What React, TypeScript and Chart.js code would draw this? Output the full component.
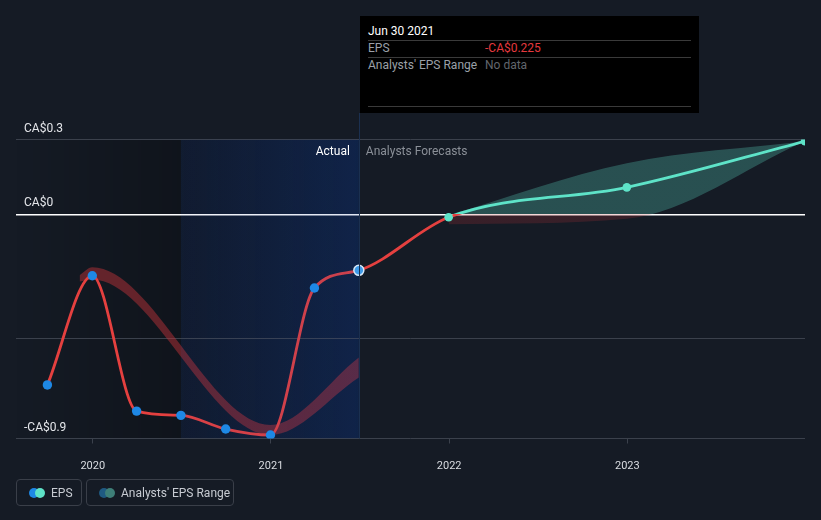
import React, { useEffect, useRef } from 'react';
import { Chart, registerables } from 'chart.js';

Chart.register(...registerables);

// ---- data ----
const epsDates = ['2019-09-30', '2019-12-31', '2020-03-31', '2020-06-30', '2020-09-30', '2020-12-31', '2021-03-31', '2021-06-30', '2021-12-31', '2022-12-31', '2023-12-31'];
const epsValues = [-0.685, -0.247, -0.79, -0.807, -0.862, -0.886, -0.296, -0.225, -0.012, 0.108, 0.293];
const actualCount = 8;

const pastRangeDates = ['2019-12-05', '2019-12-31', '2020-12-31', '2021-06-30'];
const pastRangeHigh = [-0.245, -0.213, -0.846, -0.575];
const pastRangeLow = [-0.27, -0.262, -0.886, -0.655];

const forecastRangeDates = ['2021-12-31', '2022-12-31', '2023-12-31'];
const forecastRangeHigh = [-0.003, 0.205, 0.293];
const forecastRangeLow = [-0.04, -0.018, 0.293];

const xTickYears = [2020, 2021, 2022, 2023];
const yTickValues = [-0.9, -0.5, 0, 0.3];
const yTickLabels = ['-CA$0.9', '', 'CA$0', 'CA$0.3'];
const yMin = -0.9;
const yMax = 0.3;
const xMinYear = 2019.569;
const xMaxDate = '2023-12-31';
const actualStartDate = '2020-06-30';
const actualEndDate = '2021-06-30';

const tooltipTitle = 'Jun 30 2021';
const tooltipEpsText = '-CA$0.225';

// ---- colors ----
const BG = '#151b25';
const RED = '#e5403f';
const CYAN = '#5ee3c8';
const BLUE = '#1e88e5';
const FONT = 'Roboto, "Noto Sans", sans-serif';

function toYear(d: string): number {
  const [y, m, dd] = d.split('-').map(Number);
  const start = Date.UTC(y, 0, 1);
  const end = Date.UTC(y + 1, 0, 1);
  return y + (Date.UTC(y, m - 1, dd) - start) / (end - start);
}

function zeroSplit(chart: any, above: string, below: string) {
  const { ctx, chartArea, scales } = chart;
  if (!chartArea || !scales || !scales.y) return below;
  const y0 = scales.y.getPixelForValue(0);
  const g = ctx.createLinearGradient(0, chartArea.top, 0, chartArea.bottom);
  const f = Math.min(1, Math.max(0, (y0 - chartArea.top) / (chartArea.bottom - chartArea.top)));
  g.addColorStop(0, above);
  g.addColorStop(f, above);
  g.addColorStop(f, below);
  g.addColorStop(1, below);
  return g;
}

const EPS_LINE_INDEX = 4;

const regionsPlugin = {
  id: 'regions',
  beforeDraw(chart: any) {
    const { ctx, chartArea, scales } = chart;
    const xs = scales.x;
    const xa = xs.getPixelForValue(toYear(actualStartDate));
    const xe = xs.getPixelForValue(toYear(actualEndDate));
    const top = chartArea.top;
    const h = chartArea.bottom - chartArea.top;
    ctx.save();
    const g1 = ctx.createLinearGradient(chartArea.left, 0, xa, 0);
    g1.addColorStop(0, 'rgba(0,0,0,0)');
    g1.addColorStop(1, 'rgba(0,0,0,0.25)');
    ctx.fillStyle = g1;
    ctx.fillRect(chartArea.left, top, xa - chartArea.left, h);
    const g2 = ctx.createLinearGradient(xa, 0, xe, 0);
    g2.addColorStop(0, 'rgba(0,20,60,0.22)');
    g2.addColorStop(1, 'rgba(0,35,95,0.34)');
    ctx.fillStyle = g2;
    ctx.fillRect(xa, top, xe - xa, h);
    ctx.restore();
  },
  afterDatasetDraw(chart: any, args: any) {
    if (args.index !== EPS_LINE_INDEX) return;
    const { ctx, chartArea, scales } = chart;
    const xs = scales.x;
    const xa = xs.getPixelForValue(toYear(actualStartDate));
    const xe = xs.getPixelForValue(toYear(actualEndDate));
    ctx.save();
    const g = ctx.createLinearGradient(xa, 0, xe, 0);
    g.addColorStop(0, 'rgba(30,70,170,0.05)');
    g.addColorStop(1, 'rgba(30,70,170,0.14)');
    ctx.fillStyle = g;
    ctx.fillRect(xa, chartArea.top, xe - xa, chartArea.bottom - chartArea.top);
    ctx.restore();
  },
  afterDraw(chart: any) {
    const { ctx, chartArea, scales } = chart;
    const xe = scales.x.getPixelForValue(toYear(actualEndDate));
    ctx.save();
    ctx.strokeStyle = '#1b3050';
    ctx.lineWidth = 1;
    ctx.beginPath();
    ctx.moveTo(Math.round(xe) + 0.5, 113);
    ctx.lineTo(Math.round(xe) + 0.5, chartArea.bottom);
    ctx.stroke();
    ctx.font = `12px ${FONT}`;
    ctx.textBaseline = 'middle';
    ctx.textAlign = 'right';
    ctx.fillStyle = '#ffffff';
    ctx.fillText('Actual', xe - 9, chartArea.top + 12);
    ctx.textAlign = 'left';
    ctx.fillStyle = '#8b9098';
    ctx.fillText('Analysts Forecasts', xe + 7, chartArea.top + 12);
    ctx.restore();
  },
};

export default function App() {
  const canvasRef = useRef<HTMLCanvasElement | null>(null);

  useEffect(() => {
    const canvas = canvasRef.current;
    if (!canvas) return;

    const epsPts = epsDates.map((d, i) => ({ x: toYear(d), y: epsValues[i] }));
    const actualPts = epsPts.slice(0, actualCount);
    const forecastPts = epsPts.slice(actualCount);
    const pastHigh = pastRangeDates.map((d, i) => ({ x: toYear(d), y: pastRangeHigh[i] }));
    const pastLow = pastRangeDates.map((d, i) => ({ x: toYear(d), y: pastRangeLow[i] }));
    const fcHigh = forecastRangeDates.map((d, i) => ({ x: toYear(d), y: forecastRangeHigh[i] }));
    const fcLow = forecastRangeDates.map((d, i) => ({ x: toYear(d), y: forecastRangeLow[i] }));

    const chart = new Chart(canvas, {
      type: 'line',
      data: {
        datasets: [
          {
            label: 'pastHigh',
            data: pastHigh,
            fill: '+1',
            backgroundColor: 'rgba(190,50,56,0.48)',
            borderWidth: 0,
            pointRadius: 0,
            cubicInterpolationMode: 'monotone',
            order: 5,
          },
          {
            label: 'pastLow',
            data: pastLow,
            fill: false,
            borderWidth: 0,
            pointRadius: 0,
            cubicInterpolationMode: 'monotone',
            order: 5,
          },
          {
            label: 'fcHigh',
            data: fcHigh,
            fill: '+1',
            backgroundColor: (c: any) => zeroSplit(c.chart, 'rgba(88,205,185,0.3)', 'rgba(200,52,58,0.2)'),
            borderWidth: 0,
            pointRadius: 0,
            cubicInterpolationMode: 'monotone',
            order: 5,
          },
          {
            label: 'fcLow',
            data: fcLow,
            fill: false,
            borderWidth: 0,
            pointRadius: 0,
            cubicInterpolationMode: 'monotone',
            order: 5,
          },
          {
            label: 'EPS',
            data: epsPts,
            fill: false,
            borderColor: (c: any) => zeroSplit(c.chart, CYAN, RED),
            borderWidth: 2.8,
            pointRadius: 0,
            cubicInterpolationMode: 'monotone',
            order: 3,
          },
          {
            label: 'EPS actual points',
            data: actualPts,
            showLine: false,
            pointRadius: actualPts.map((_, i) => (i === actualCount - 1 ? 5 : 4.7)),
            pointBackgroundColor: actualPts.map((_, i) => (i === actualCount - 1 ? '#3d9ae8' : BLUE)),
            pointBorderColor: actualPts.map((_, i) => (i === actualCount - 1 ? '#d8e8f7' : BLUE)),
            pointBorderWidth: actualPts.map((_, i) => (i === actualCount - 1 ? 1.5 : 0)),
            order: 1,
          },
          {
            label: 'EPS forecast points',
            data: forecastPts,
            showLine: false,
            pointRadius: 4.3,
            pointBackgroundColor: CYAN,
            pointBorderColor: CYAN,
            pointBorderWidth: 0,
            order: 1,
          },
        ],
      },
      options: {
        responsive: false,
        animation: false,
        events: [],
        layout: { padding: { top: 139.5, left: 0, right: 16, bottom: 0 } },
        plugins: {
          legend: { display: false },
          tooltip: { enabled: false },
        },
        scales: {
          x: {
            type: 'linear',
            min: xMinYear,
            max: toYear(xMaxDate),
            afterBuildTicks: (s: any) => {
              s.ticks = xTickYears.map((v) => ({ value: v }));
            },
            afterFit: (s: any) => {
              s.height = 81.5;
            },
            ticks: {
              color: '#d9dce1',
              font: { family: FONT, size: 11 },
              padding: 16,
              maxRotation: 0,
              callback: (v: any) => String(v),
            },
            grid: {
              drawOnChartArea: false,
              drawTicks: true,
              tickLength: 5,
              color: '#3b414c',
            },
            border: { display: false },
          },
          y: {
            type: 'linear',
            min: yMin,
            max: yMax,
            afterBuildTicks: (s: any) => {
              s.ticks = yTickValues.map((v) => ({ value: v }));
            },
            afterFit: (s: any) => {
              s.width = 16;
            },
            ticks: {
              mirror: true,
              padding: 8,
              labelOffset: -11,
              color: '#e4e6ea',
              font: { family: FONT, size: 12 },
              callback: (v: any) => {
                const i = yTickValues.indexOf(Number(v));
                return i >= 0 ? yTickLabels[i] : '';
              },
            },
            grid: {
              drawTicks: false,
              color: (c: any) => (c.tick && c.tick.value === 0 ? '#ffffff' : '#3b414c'),
              lineWidth: (c: any) => (c.tick && c.tick.value === 0 ? 1.5 : 1),
            },
            border: { display: false },
          },
        },
      },
      plugins: [regionsPlugin],
    });

    return () => {
      chart.destroy();
    };
  }, []);

  const legendBox: React.CSSProperties = {
    position: 'absolute',
    top: 479,
    height: 27,
    border: '1px solid #3a3f49',
    borderRadius: 4,
    boxSizing: 'border-box',
    display: 'flex',
    alignItems: 'center',
    fontFamily: FONT,
    fontSize: 12,
    color: '#c7cbd2',
  };
  const dot = (color: string, left: number): React.CSSProperties => ({
    position: 'absolute',
    left,
    top: 8,
    width: 10,
    height: 10,
    borderRadius: '50%',
    background: color,
  });

  const ttRow: React.CSSProperties = {
    position: 'absolute',
    left: 8,
    fontFamily: FONT,
    fontSize: 12,
    lineHeight: '14px',
    whiteSpace: 'nowrap',
  };
  const ttLine = (top: number): React.CSSProperties => ({
    position: 'absolute',
    left: 8,
    right: 8,
    top,
    height: 1,
    background: '#3a3a3a',
  });

  return (
    <div style={{ position: 'fixed', left: 0, top: 0, width: 821, height: 520, background: BG, overflow: 'hidden' }}>
      <canvas ref={canvasRef} width={821} height={520} style={{ position: 'absolute', left: 0, top: 0, width: 821, height: 520 }} />

      <div style={{ position: 'absolute', left: 360, top: 16, width: 339, height: 97, background: '#000000' }}>
        <div style={{ ...ttRow, top: 8, color: '#ffffff' }}>{tooltipTitle}</div>
        <div style={ttLine(24)} />
        <div style={{ ...ttRow, top: 25, color: '#9ba0a8' }}>EPS</div>
        <div style={{ ...ttRow, top: 25, left: 125, color: '#e5393e' }}>{tooltipEpsText}</div>
        <div style={ttLine(41)} />
        <div style={{ ...ttRow, top: 42, color: '#9ba0a8' }}>Analysts' EPS Range</div>
        <div style={{ ...ttRow, top: 42, left: 125, color: '#62666d' }}>No data</div>
        <div style={ttLine(90)} />
      </div>

      <div style={{ ...legendBox, left: 16, width: 66 }}>
        <div style={dot(BLUE, 12)} />
        <div style={dot(CYAN, 18)} />
        <span style={{ position: 'absolute', left: 34, top: 6 }}>EPS</span>
      </div>
      <div style={{ ...legendBox, left: 86, width: 148 }}>
        <div style={dot('#1f5a82', 12)} />
        <div style={dot('#3e7f78', 18)} />
        <span style={{ position: 'absolute', left: 34, top: 6 }}>Analysts' EPS Range</span>
      </div>
    </div>
  );
}
